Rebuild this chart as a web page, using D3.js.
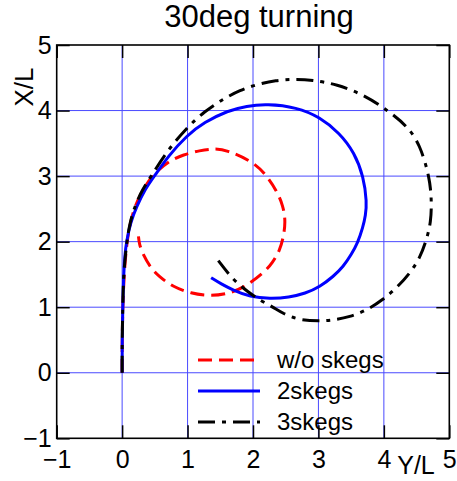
<!DOCTYPE html>
<html><head><meta charset="utf-8">
<script src="https://cdn.jsdelivr.net/npm/d3@7"></script>
<style>body{margin:0;background:#fff}svg{display:block}text{font-family:"Liberation Sans",Arial,sans-serif}</style>
</head><body>
<svg id="c" width="457" height="481"></svg>
<script>
const title = "30deg turning";
const xLabel = "Y/L";
const yLabel = "X/L";
const ticks = [-1, 0, 1, 2, 3, 4, 5];
const tickLabels = ["\u22121", "0", "1", "2", "3", "4", "5"];
const seriesNames = ["w/o skegs", "2skegs", "3skegs"];

// horizontal (Y/L) and vertical (X/L) coordinates
const redY = [0,0.00,0.01,0.03,0.07,0.15,0.30,0.48,0.70,0.94,1.19,1.39,1.60,2.00,2.20,2.36,2.46,2.50,2.46,2.41,2.30,2.16,1.85,1.60,1.34,1.05,0.78,0.56,0.43,0.32,0.26,0.25];
const redX = [0,0.50,1.00,1.50,2.00,2.43,2.78,3.03,3.22,3.33,3.39,3.42,3.40,3.22,3.02,2.78,2.55,2.30,2.05,1.87,1.68,1.52,1.29,1.20,1.17,1.21,1.31,1.47,1.61,1.80,1.97,2.08];

const blueY = [0,0.00,0.01,0.02,0.04,0.07,0.13,0.22,0.35,0.50,0.70,0.99,1.25,1.62,1.90,2.21,2.67,3.02,3.32,3.55,3.69,3.74,3.72,3.68,3.60,3.50,3.38,3.23,3.02,2.80,2.55,2.26,1.95,1.70,1.52,1.36];
const blueX = [0,0.50,1.00,1.41,1.80,2.02,2.30,2.53,2.80,3.01,3.30,3.62,3.82,4.00,4.07,4.10,4.05,3.90,3.66,3.36,2.99,2.60,2.40,2.22,1.98,1.80,1.62,1.47,1.31,1.21,1.15,1.13,1.16,1.26,1.35,1.45];

const blackY = [0,0.00,0.01,0.02,0.07,0.12,0.20,0.30,0.45,0.70,0.99,1.25,1.55,1.80,2.06,2.35,2.62,2.90,3.28,3.70,4.06,4.35,4.55,4.70,4.73,4.72,4.65,4.55,4.40,4.20,3.98,3.75,3.48,3.20,3.02,2.72,2.46,2.31,2.10,1.93,1.70,1.47];
const blackX = [0,0.50,1.00,1.50,2.00,2.30,2.55,2.78,3.01,3.40,3.74,3.98,4.18,4.31,4.40,4.46,4.48,4.47,4.40,4.24,4.00,3.77,3.49,2.98,2.63,2.30,2.02,1.75,1.52,1.30,1.11,0.96,0.85,0.80,0.79,0.80,0.90,1.00,1.11,1.23,1.41,1.71];

const svg = d3.select("#c");
const L = 56.7, R = 449.3, T = 45, B = 438.3;
const x = d3.scaleLinear().domain([-1, 5]).range([L, R]);
const y = d3.scaleLinear().domain([-1, 5]).range([B, T]);

// grid
const g = svg.append("g");
g.selectAll("line.v").data(ticks.slice(1, -1)).join("line")
  .attr("x1", d => x(d)).attr("x2", d => x(d)).attr("y1", T).attr("y2", B)
  .attr("stroke", "#4a4aff").attr("stroke-width", 1);
g.selectAll("line.h").data(ticks.slice(1, -1)).join("line")
  .attr("y1", d => y(d)).attr("y2", d => y(d)).attr("x1", L).attr("x2", R)
  .attr("stroke", "#4a4aff").attr("stroke-width", 1);

// axes with inward ticks
const tl = (d) => tickLabels[ticks.indexOf(d)];
const tlen = 13;
svg.append("g").attr("transform", `translate(0,${B})`)
  .call(d3.axisBottom(x).tickValues(ticks).tickSize(-tlen).tickFormat(tl).tickPadding(12))
  .call(a => a.select(".domain").remove());
svg.append("g").attr("transform", `translate(0,${T})`)
  .call(d3.axisTop(x).tickValues(ticks).tickSize(-tlen).tickFormat(""))
  .call(a => a.select(".domain").remove());
svg.append("g").attr("transform", `translate(${L},0)`)
  .call(d3.axisLeft(y).tickValues(ticks).tickSize(-tlen).tickFormat(tl).tickPadding(5))
  .call(a => a.select(".domain").remove());
svg.append("g").attr("transform", `translate(${R},0)`)
  .call(d3.axisRight(y).tickValues(ticks).tickSize(-tlen).tickFormat(""))
  .call(a => a.select(".domain").remove());
svg.selectAll(".tick line").attr("stroke", "#000").attr("stroke-width", 1.5);
svg.selectAll(".tick text").attr("font-size", 25).attr("fill", "#000")
  .style("font-family", '"Liberation Sans",Arial,sans-serif');

svg.append("rect").attr("x", L).attr("y", T).attr("width", R - L).attr("height", B - T)
  .attr("fill", "none").attr("stroke", "#000").attr("stroke-width", 1.6);

// curves
const series = [
  {name: seriesNames[0], xs: redY, ys: redX, color: "#ff0000", dash: "14,7"},
  {name: seriesNames[1], xs: blueY, ys: blueX, color: "#0000ff", dash: null},
  {name: seriesNames[2], xs: blackY, ys: blackX, color: "#000000", dash: "17,7,4,7"}
];
const line = d3.line().x(d => x(d[0])).y(d => y(d[1])).curve(d3.curveBasis);
series.forEach(s => {
  const pts = s.xs.map((v, i) => [v, s.ys[i]]);
  svg.append("path").datum(pts).attr("d", line)
    .attr("fill", "none").attr("stroke", s.color).attr("stroke-width", 3)
    .attr("stroke-dasharray", s.dash);
});

// legend
const lg = svg.append("g");
series.forEach((s, i) => {
  const yy = 360 + i * 31;
  lg.append("line").attr("x1", 198).attr("x2", 260).attr("y1", yy).attr("y2", yy)
    .attr("stroke", s.color).attr("stroke-width", 3).attr("stroke-dasharray", s.dash);
  lg.append("text").attr("x", 277).attr("y", yy + 8).attr("font-size", 24).text(s.name);
});

// title & labels
svg.append("text").attr("x", 259).attr("y", 27).attr("text-anchor", "middle")
  .attr("font-size", 31).text(title);
svg.append("text").attr("x", 416).attr("y", 474).attr("text-anchor", "middle")
  .attr("font-size", 25).text(xLabel);
svg.append("text").attr("transform", "translate(33,87) rotate(-90)").attr("text-anchor", "middle")
  .attr("font-size", 26).text(yLabel);
</script>
</body></html>
